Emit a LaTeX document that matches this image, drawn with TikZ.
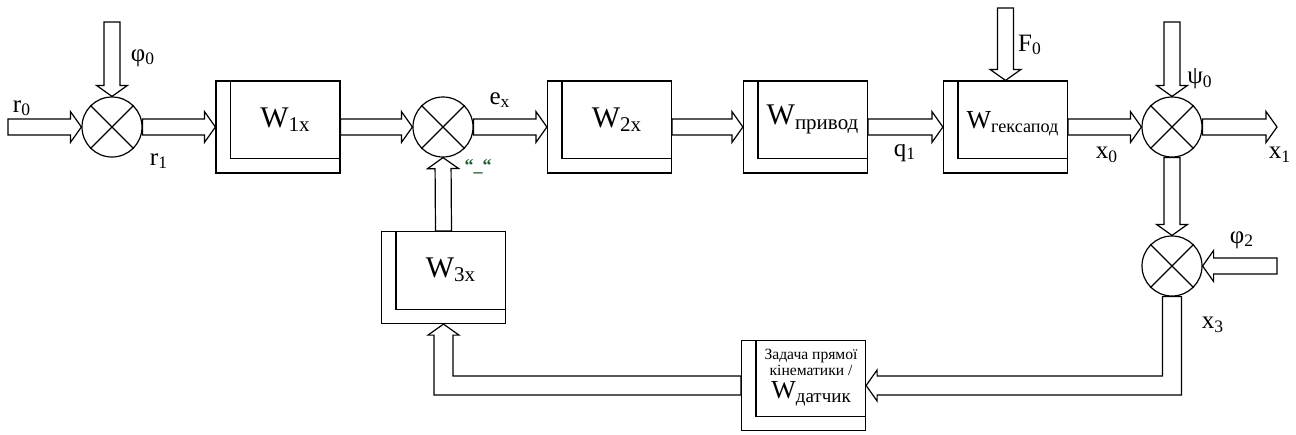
\documentclass[tikz,border=0pt]{standalone}
\usepackage{fontspec}
\setmainfont{Liberation Serif}
\usetikzlibrary{calc}

\definecolor{minusgreen}{RGB}{30,90,45}
% hollow arrow sizes
\newcommand{\shaftw}{4pt}
\newcommand{\fbw}{4.75pt}
\newcommand{\headw}{7.75pt}
\newcommand{\headl}{5.5pt}

\tikzset{
  summ/.style={draw, circle, minimum size=30pt, inner sep=0pt},
  blk/.style={draw, minimum width=62pt, minimum height=46pt, inner sep=0pt},
  wtxt/.style={inner sep=0pt, xshift=3.75pt, yshift=3.75pt, font=\fontsize{15}{18}\selectfont},
  lbl/.style={inner sep=0pt, font=\fontsize{12.5}{15}\selectfont},
  % straight hollow arrow
  fat/.style={to path={
    let \p1=(\tikztostart), \p2=(\tikztotarget),
        \n1={veclen(\x2-\x1,\y2-\y1)}, \n2={atan2(\y2-\y1,\x2-\x1)} in
    {[shift={(\p1)}, rotate=\n2]
      (0pt,-\shaftw) -- ({\n1-\headl},-\shaftw) -- ({\n1-\headl},-\headw)
      -- ({\n1+0pt},0pt) -- ({\n1-\headl},\headw) -- ({\n1-\headl},\shaftw)
      -- (0pt,\shaftw) -- cycle}
  }},
  % hollow arrow, down then left
  fatvh/.style={to path={
    let \p1=(\tikztostart), \p2=(\tikztotarget) in
    ({\x1-\fbw},\y1) -- ({\x1-\fbw},{\y2+\fbw}) -- ({\x2+\headl},{\y2+\fbw})
    -- ({\x2+\headl},{\y2+\headw}) -- (\p2) -- ({\x2+\headl},{\y2-\headw})
    -- ({\x2+\headl},{\y2-\fbw}) -- ({\x1+\fbw},{\y2-\fbw}) -- ({\x1+\fbw},\y1) -- cycle
  }},
  % hollow arrow, left then up
  fathv/.style={to path={
    let \p1=(\tikztostart), \p2=(\tikztotarget) in
    (\x1,{\y1+\fbw}) -- ({\x2+\fbw},{\y1+\fbw}) -- ({\x2+\fbw},{\y2-\headl})
    -- ({\x2+\headw},{\y2-\headl}) -- (\p2) -- ({\x2-\headw},{\y2-\headl})
    -- ({\x2-\fbw},{\y2-\headl}) -- ({\x2-\fbw},{\y1-\fbw}) -- (\x1,{\y1-\fbw}) -- cycle
  }}
}

\begin{document}
\begin{tikzpicture}[x=0.5pt, y=-0.5pt, line width=0.6pt]
\useasboundingbox (0,0) rectangle (1296,434);

% summing junctions
\node[summ] (s1) at (112,127) {};
\node[summ] (s2) at (443,127) {};
\node[summ] (s3) at (1172,127) {};
\node[summ] (s4) at (1172,266) {};
\foreach \s in {s1,s2,s3,s4}
  \draw (\s.north west) -- (\s.south east) (\s.north east) -- (\s.south west);

% blocks
\node[blk] (b1) at (278,127) {};
\node[blk] (b2) at (609.5,127) {};
\node[blk] (b3) at (805.5,127) {};
\node[blk] (b4) at (1005.5,127) {};
\node[blk] (b3x) at (443.5,277.5) {};
\node[blk, minimum height=45pt] (b5) at (803.5,385.5) {};
\foreach \b in {b1,b2,b3,b4,b3x,b5}
  \draw ([xshift=7.5pt]\b.north west) |- ([yshift=7.5pt]\b.south east);

\node[wtxt] (t1) at (b1.center) {W\textsubscript{1x}};
\node[wtxt] (t2) at (b2.center) {W\textsubscript{2x}};
\node[wtxt] (t3) at (b3.center) {W\textsubscript{привод}};
\node[wtxt, font=\fontsize{13}{15}\selectfont, yshift=-2pt] (t4) at (b4.center) {W\textsubscript{гексапод}};
\node[wtxt] (t3x) at (b3x.center) {W\textsubscript{3x}};
\node[wtxt, align=center, font=\fontsize{7.8}{6.8}\selectfont] (t5) at (b5.center)
  {Задача прямої\\кінематики /\\[2pt]{\fontsize{13}{13}\selectfont W}{\fontsize{9.5}{10}\selectfont\raisebox{-2pt}{датчик}}};

% free ends
\coordinate (in0) at (8,127);
\coordinate (phi0top) at (112,22);
\coordinate (f0top) at (1005.5,8);
\coordinate (psi0top) at (1172,22);
\coordinate (out1) at (1277,127);
\coordinate (phi2end) at (1277,266);

% connectors
\draw[fat] (in0) to (s1.west);
\draw[fat] (phi0top) to (s1.north);
\draw[fat] (s1.east) to (b1.west);
\draw[fat] (b1.east) to (s2.west);
\draw[fat] (s2.east) to (b2.west);
\draw[fat] (b2.east) to (b3.west);
\draw[fat] (b3.east) to (b4.west);
\draw[fat] (f0top) to (b4.north);
\draw[fat] (b4.east) to (s3.west);
\draw[fat] (psi0top) to (s3.north);
\draw[fat] (s3.east) to (out1);
\draw[fat] (s3.south) to (s4.north);
\draw[fat] (phi2end) to (s4.east);
\draw[fat] (b3x.north) to (s2.south);
\draw[fatvh] (s4.south) to (b5.east);
\draw[fathv] (b5.west) to (b3x.south);

% labels
\node[lbl] (lr0) at (22,108) {r\textsubscript{0}};
\node[lbl] (lphi0) at (143,58) {φ\textsubscript{0}};
\node[lbl] (lr1) at (159,161) {r\textsubscript{1}};
\node[lbl] (lex) at (500,100) {e\textsubscript{x}};
\node[lbl, text=minusgreen, font=\fontsize{9}{10}\selectfont\bfseries] (lminus) at (478,167) {“\_“};
\node[lbl] (lq1) at (905,153) {q\textsubscript{1}};
\node[lbl] (lf0) at (1030,45) {F\textsubscript{0}};
\node[lbl] (lx0) at (1107,155) {x\textsubscript{0}};
\node[lbl] (lpsi0) at (1200,79) {ψ\textsubscript{0}};
\node[lbl] (lx1) at (1280,155) {x\textsubscript{1}};
\node[lbl] (lphi2) at (1242,240) {φ\textsubscript{2}};
\node[lbl] (lx3) at (1213,325) {x\textsubscript{3}};
\end{tikzpicture}
\end{document}
